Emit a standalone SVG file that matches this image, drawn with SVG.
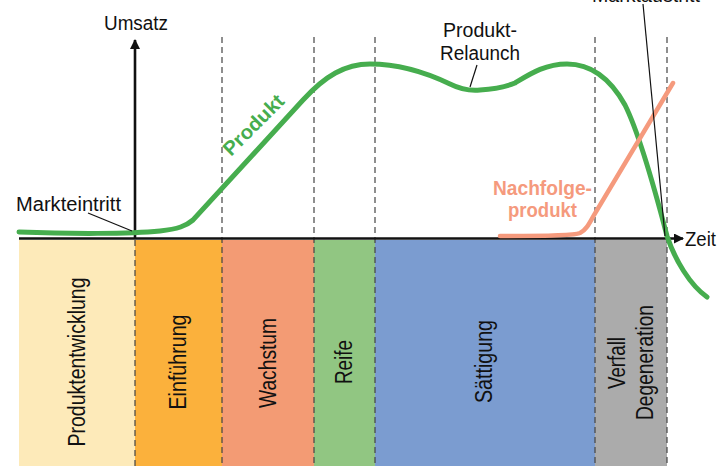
<svg xmlns="http://www.w3.org/2000/svg" width="717" height="466" viewBox="0 0 717 466">
  <defs>
    <style>
      .lbl { font-family: "Liberation Sans", Arial, sans-serif; font-size: 20px; fill: #111; }
      .phase { font-family: "Liberation Sans", Arial, sans-serif; font-size: 23px; fill: #111; text-anchor: middle; }
      .bold { font-family: "Liberation Sans", Arial, sans-serif; font-weight: bold; }
      .grid { stroke: #444; stroke-width: 1.2; stroke-dasharray: 6 4; fill: none; }
      .lead { stroke: #111; stroke-width: 1.2; fill: none; }
    </style>
    <marker id="arrow" viewBox="0 0 10 10" refX="9" refY="5" markerWidth="10" markerHeight="10" markerUnits="userSpaceOnUse" orient="auto">
      <path d="M0,0 L10,5 L0,10 z" fill="#111"/>
    </marker>
  </defs>

  <rect width="717" height="466" fill="#fff"/>

  <!-- phase bands below the time axis -->
  <g id="bands">
    <g id="phase-entwicklung">
      <rect x="19" y="240" width="116" height="226" fill="#FDEAB9"/>
      <text class="phase" transform="translate(85,362) rotate(-90)" textLength="169" lengthAdjust="spacingAndGlyphs">Produktentwicklung</text>
    </g>
    <g id="phase-einfuehrung">
      <rect x="135" y="240" width="87" height="226" fill="#FBB13C"/>
      <text class="phase" transform="translate(186,362) rotate(-90)" textLength="95" lengthAdjust="spacingAndGlyphs">Einführung</text>
    </g>
    <g id="phase-wachstum">
      <rect x="222" y="240" width="92" height="226" fill="#F39B74"/>
      <text class="phase" transform="translate(276,363) rotate(-90)" textLength="90" lengthAdjust="spacingAndGlyphs">Wachstum</text>
    </g>
    <g id="phase-reife">
      <rect x="314" y="240" width="61" height="226" fill="#91C682"/>
      <text class="phase" transform="translate(352,362) rotate(-90)" textLength="44" lengthAdjust="spacingAndGlyphs">Reife</text>
    </g>
    <g id="phase-saettigung">
      <rect x="375" y="240" width="220" height="226" fill="#7B9CD0"/>
      <text class="phase" transform="translate(492,361.5) rotate(-90)" textLength="83" lengthAdjust="spacingAndGlyphs">Sättigung</text>
    </g>
    <g id="phase-verfall">
      <rect x="595" y="240" width="72" height="226" fill="#ABABAB"/>
      <text class="phase" transform="translate(625,363) rotate(-90)" textLength="52" lengthAdjust="spacingAndGlyphs">Verfall</text>
      <text class="phase" transform="translate(653,362.5) rotate(-90)" textLength="115" lengthAdjust="spacingAndGlyphs">Degeneration</text>
    </g>
  </g>

  <!-- phase boundaries -->
  <g id="grid">
    <line class="grid" x1="135" y1="240" x2="135" y2="466"/>
    <line class="grid" x1="222" y1="37" x2="222" y2="466"/>
    <line class="grid" x1="314" y1="37" x2="314" y2="466"/>
    <line class="grid" x1="375" y1="37" x2="375" y2="466"/>
    <line class="grid" x1="595" y1="37" x2="595" y2="466"/>
    <line class="grid" x1="667" y1="37" x2="667" y2="466"/>
  </g>

  <!-- axes -->
  <g id="axes">
    <line x1="19" y1="238.5" x2="683" y2="238.5" stroke="#111" stroke-width="2.6" marker-end="url(#arrow)"/>
    <line x1="135" y1="239" x2="135" y2="40" stroke="#111" stroke-width="2.6" marker-end="url(#arrow)"/>
    <text id="umsatz" class="lbl" x="136" y="30" text-anchor="middle" textLength="64" lengthAdjust="spacingAndGlyphs">Umsatz</text>
    <text id="zeit" class="lbl" x="685" y="246" textLength="31" lengthAdjust="spacingAndGlyphs">Zeit</text>
  </g>

  <!-- sales curves -->
  <g id="curves">
    <path id="curve-produkt" d="M 19 232 C 70 234, 130 234, 160 231 C 178 229, 186 226, 193 220 L 303 100 C 325 76, 345 64, 370 64 C 400 64, 425 72, 450 84 C 462 90, 470 91, 480 90 C 495 89, 505 87, 515 83 C 530 74, 545 64, 567 64 C 590 64, 610 78, 625 105 C 640 135, 655 190, 667 236 C 675 260, 690 285, 707 297" fill="none" stroke="#46AD4E" stroke-width="5" stroke-linecap="round"/>
    <path id="curve-nachfolge" d="M 500 236 C 540 236, 572 236, 580 233 C 586 230, 589 224, 594 215 L 673 83" fill="none" stroke="#F59A7D" stroke-width="4.5" stroke-linecap="round"/>
  </g>

  <!-- annotations -->
  <g id="connectors">
    <line class="lead" x1="88" y1="213" x2="132" y2="231"/>
    <line class="lead" x1="477" y1="65" x2="470" y2="87"/>
    <line class="lead" x1="643" y1="4" x2="665" y2="236"/>
  </g>

  <g id="label-markteintritt">
    <text class="lbl" x="16" y="211" textLength="105" lengthAdjust="spacingAndGlyphs">Markteintritt</text>
  </g>
  <g id="label-relaunch">
    <text class="lbl" x="480" y="37" text-anchor="middle" textLength="74" lengthAdjust="spacingAndGlyphs">Produkt-</text>
    <text class="lbl" x="480" y="60" text-anchor="middle" textLength="80" lengthAdjust="spacingAndGlyphs">Relaunch</text>
  </g>
  <g id="label-marktaustritt">
    <text class="lbl" x="592" y="2" textLength="108" lengthAdjust="spacingAndGlyphs">Marktaustritt</text>
  </g>
  <g id="label-produkt">
    <text class="bold" transform="translate(231,157) rotate(-45)" font-size="20" fill="#46AD4E" textLength="77" lengthAdjust="spacingAndGlyphs">Produkt</text>
  </g>
  <g id="label-nachfolge">
    <text class="bold" x="542.5" y="195" font-size="21" fill="#F59A7D" text-anchor="middle" textLength="99" lengthAdjust="spacingAndGlyphs">Nachfolge-</text>
    <text class="bold" x="542.5" y="217" font-size="21" fill="#F59A7D" text-anchor="middle" textLength="69" lengthAdjust="spacingAndGlyphs">produkt</text>
  </g>
</svg>
